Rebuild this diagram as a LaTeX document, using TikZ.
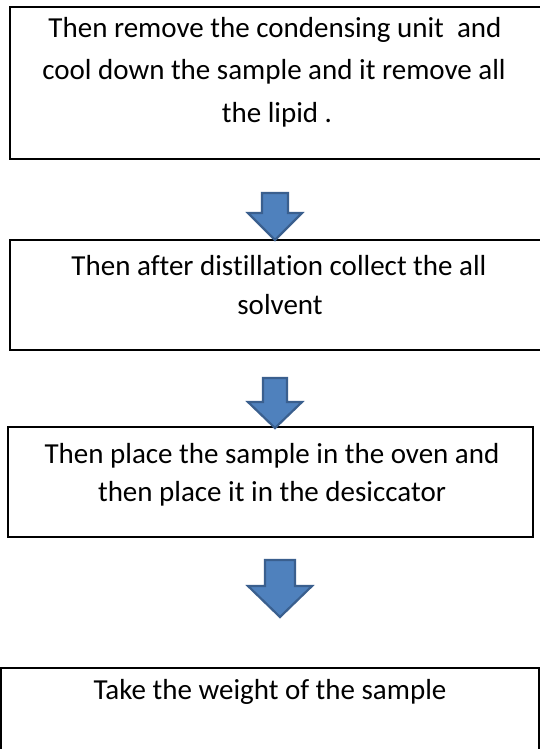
\documentclass[tikz,border=0pt]{standalone}
\usepackage{fontspec}
\setmainfont{Carlito}[Ligatures=NoCommon]
\definecolor{arrfill}{HTML}{4F81BD}
\definecolor{arrline}{HTML}{3A5F8E}
\tikzset{
  boxrect/.style={draw=black, line width=2pt},
  txt/.style={inner sep=0pt, font=\fontsize{29}{35}\selectfont, text=black},
  blockarrow/.style={fill=arrfill, draw=arrline, line width=2.2pt, line join=miter}
}
\newcommand\flowarrow[6]{% cx, top, headstart, tip, shaft half width, head half width
  \draw[blockarrow] (#1-#5,#2) -- (#1+#5,#2) -- (#1+#5,#3) -- (#1+#6,#3) -- (#1,#4)
    -- (#1-#6,#3) -- (#1-#5,#3) -- cycle;}
\begin{document}
\begin{tikzpicture}[x=1pt,y=-1pt]
\fill[white] (0,0) rectangle (540,749);
\clip (0,0) rectangle (540,749);
% boxes
\draw[boxrect] (10,7) rectangle (560,159);
\node[inner sep=0pt] (b1) at (275,83) {};
\draw[boxrect] (10,240) rectangle (560,350);
\node[inner sep=0pt] (b2) at (275,295) {};
\draw[boxrect] (8,427) rectangle (533,537);
\node[inner sep=0pt] (b3) at (270,482) {};
\draw[boxrect] (1,668) rectangle (538.5,770);
\node[inner sep=0pt] (b4) at (270,710) {};
% texts
\node[txt, anchor=base] (t1a) at (275,38) {Then remove the condensing unit\ \ and};
\node[txt, anchor=base] (t1b) at (274,80) {cool down the sample and it remove all};
\node[txt, anchor=base] (t1c) at (277,122) {the lipid .};
\node[txt, anchor=base] (t2a) at (279,275) {Then after distillation collect the all};
\node[txt, anchor=base] (t2b) at (280,314) {solvent};
\node[txt, anchor=base] (t3a) at (272,463) {Then place the sample in the oven and};
\node[txt, anchor=base] (t3b) at (272,501) {then place it in the desiccator};
\node[txt, anchor=base] (t4a) at (270,699) {Take the weight of the sample};
% block arrows
\flowarrow{275}{193}{213}{240}{13}{27}
\flowarrow{275}{378}{402}{428}{12}{27}
\flowarrow{280}{560}{586}{617}{15}{32}
\end{tikzpicture}
\end{document}
